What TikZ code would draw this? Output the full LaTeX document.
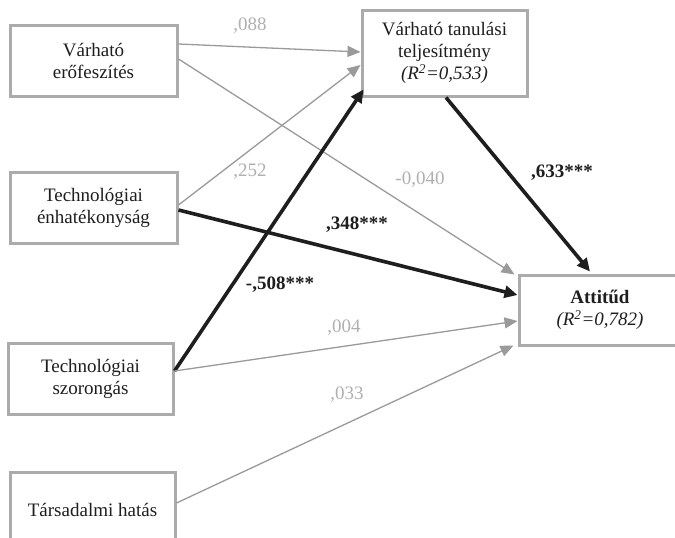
\documentclass[tikz,border=0pt]{standalone}
\usepackage{fontspec}
\setmainfont{Liberation Serif}
\usetikzlibrary{arrows.meta}
\definecolor{boxgray}{HTML}{ABABAB}
\definecolor{linegray}{HTML}{9A9A9A}
\definecolor{labgray}{HTML}{B0B0B0}
\definecolor{ink}{HTML}{1E1E1E}
\tikzset{
  box/.style={draw=boxgray, line width=3pt, fill=white, inner sep=0pt, align=center,
    text=ink, font=\fontsize{19}{22}\selectfont},
  weak/.style={draw=linegray, line width=1.3pt, -{Triangle[length=13pt,width=11pt]}, color=linegray},
  strong/.style={draw=ink, line width=3.6pt, -{Triangle[length=13pt,width=12pt]}, color=ink},
  wlab/.style={text=labgray, font=\fontsize{19}{22}\selectfont, inner sep=0pt},
  slab/.style={text=ink, font=\fontsize{19}{22}\selectfont\bfseries, inner sep=0pt},
}
\begin{document}
\begin{tikzpicture}[x=1pt,y=-1pt]
\useasboundingbox (0,0) rectangle (675,538);
\clip (0,0) rectangle (675,538);
\fill[white] (0,0) rectangle (675,538);
% boxes
\node[box, minimum width=167pt, minimum height=71pt] (b1) at (93.5,60.5) {Várható\\erőfeszítés};
\node[box, minimum width=165pt, minimum height=86pt] (b2) at (444.5,53) {Várható tanulási\\teljesítmény\\\textit{(R\textsuperscript{2}=0,533)}};
\node[box, minimum width=167pt, minimum height=71pt] (b3) at (93.5,207.5) {Technológiai\\énhatékonyság};
\node[box, minimum width=162pt, minimum height=70pt] (b4) at (600,310) {\textbf{Attitűd}\\\textit{(R\textsuperscript{2}=0,782)}};
\node[box, minimum width=165pt, minimum height=71pt] (b5) at (90.5,378.5) {Technológiai\\szorongás};
\node[box, minimum width=165pt, minimum height=76pt] (b6) at (92.5,510) {Társadalmi hatás};
% connectors
\draw[weak] ([yshift=16.5pt]b1.east) -- ([yshift=1pt]b2.west);
\draw[weak] ([yshift=1.5pt]b1.east) -- ([xshift=-3pt,yshift=-1pt]b4.north west);
\draw[weak] ([yshift=2.5pt]b3.east) -- ([yshift=-12pt]b2.west);
\draw[strong] ([yshift=-2.5pt]b3.east) -- ([yshift=15pt]b4.west);
\draw[strong] ([yshift=7.5pt]b5.east) -- ([xshift=3pt,yshift=8pt]b2.south west);
\draw[weak] ([yshift=7.5pt]b5.east) -- ([yshift=-11pt]b4.west);
\draw[weak] ([yshift=7pt]b6.east) -- ([xshift=-4pt,yshift=1pt]b4.south west);
\draw[strong] ([xshift=1.5pt]b2.south) -- ([xshift=-10pt,yshift=2pt]b4.north);
% labels
\node[wlab] (l1) at (250,26) {,088};
\node[wlab] (l2) at (420,180) {-0,040};
\node[wlab] (l3) at (250,172) {,252};
\node[slab] (l4) at (357,225) {,348***};
\node[slab] (l5) at (280,285) {-,508***};
\node[wlab] (l6) at (344,328) {,004};
\node[wlab] (l7) at (347,395) {,033};
\node[slab] (l8) at (562,173) {,633***};
\end{tikzpicture}
\end{document}
